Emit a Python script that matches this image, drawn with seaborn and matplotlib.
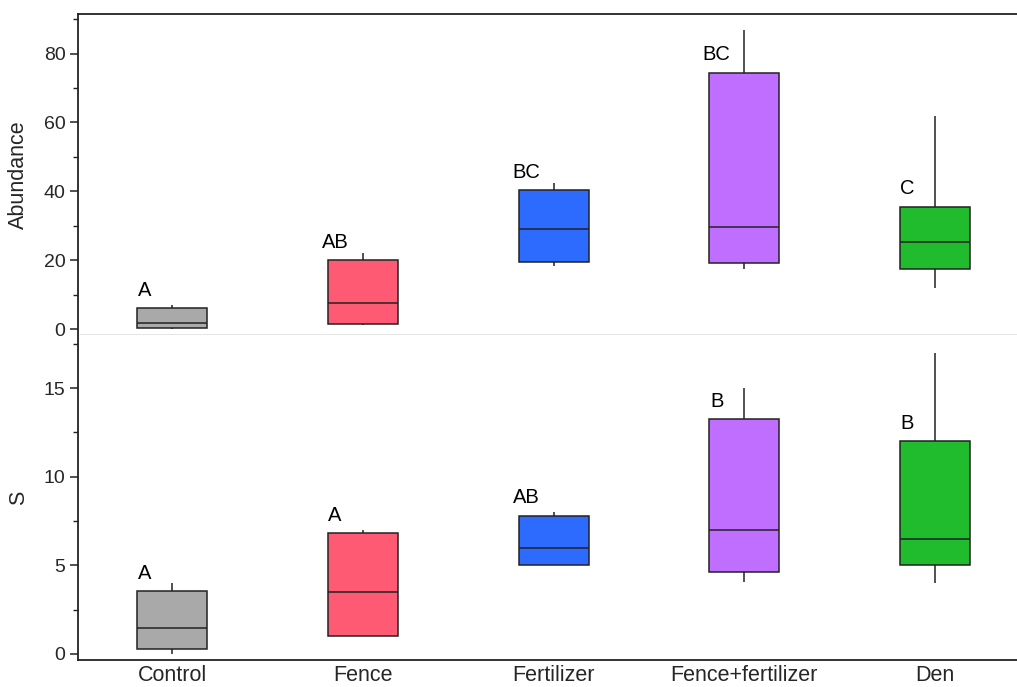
import numpy as np
import pandas as pd
import matplotlib
matplotlib.use("Agg")
import matplotlib.pyplot as plt
import seaborn as sns
from matplotlib.ticker import MultipleLocator

# Treatments
groups = ["Control", "Fence", "Fertilizer", "Fence+fertilizer", "Den"]
colors = ["#A9A9A9", "#FF5A73", "#2D6BFF", "#C06EFF", "#20BC2E"]

# Abundance: min, Q1, median, Q3, max per treatment
abund_min = [0.0, 1.2, 18.3, 17.5, 12.0]
abund_q1 = [0.3, 1.5, 19.5, 19.2, 17.5]
abund_med = [1.8, 7.6, 29.0, 29.6, 25.2]
abund_q3 = [6.0, 20.1, 40.3, 74.5, 35.5]
abund_max = [7.0, 22.0, 42.4, 87.0, 62.0]
abund_letters = ["A", "AB", "BC", "BC", "C"]

# Species richness S: min, Q1, median, Q3, max per treatment
s_min = [0.0, 1.0, 5.0, 4.05, 4.0]
s_q1 = [0.3, 1.0, 5.0, 4.6, 5.0]
s_med = [1.47, 3.5, 6.0, 7.0, 6.5]
s_q3 = [3.55, 6.8, 7.8, 13.25, 12.0]
s_max = [4.0, 7.0, 8.0, 15.0, 17.0]
s_letters = ["A", "A", "AB", "B", "B"]


def five_number_frame(mins, q1s, meds, q3s, maxs):
    # Five points per group reproduce the quartiles exactly
    rows = []
    for g, a, b, c, d, e in zip(groups, mins, q1s, meds, q3s, maxs):
        for v in (a, b, c, d, e):
            rows.append({"group": g, "value": v})
    return pd.DataFrame(rows)


df_abund = five_number_frame(abund_min, abund_q1, abund_med, abund_q3, abund_max)
df_s = five_number_frame(s_min, s_q1, s_med, s_q3, s_max)

sns.set_style("white")
plt.rcParams["font.family"] = ["Liberation Sans", "DejaVu Sans"]

fig = plt.figure(figsize=(10.17, 6.87), dpi=100)
ax_top = fig.add_axes([0.0767, 0.5125, 0.9233, 0.4671])
ax_bot = fig.add_axes([0.0767, 0.0394, 0.9233, 0.4731], sharex=ax_top)

edge = "#222222"
box_kw = dict(
    x="group", y="value", hue="group", order=groups, hue_order=groups,
    palette=colors, saturation=1, legend=False, whis=(0, 100), showfliers=False,
    width=0.367, linewidth=1.1, linecolor=edge,
    medianprops=dict(color=edge, linewidth=1.1),
    whiskerprops=dict(color=edge, linewidth=1.1),
    capprops=dict(visible=False),
    boxprops=dict(edgecolor=edge, linewidth=1.1),
)

sns.boxplot(data=df_abund, ax=ax_top, **box_kw)
sns.boxplot(data=df_s, ax=ax_bot, **box_kw)

for ax, q3s, letters in ((ax_top, abund_q3, abund_letters), (ax_bot, s_q3, s_letters)):
    for i, (q, lab) in enumerate(zip(q3s, letters)):
        ax.annotate(lab, xy=(i - 0.145, q), xytext=(0, 6), textcoords="offset points",
                    ha="center", va="bottom", fontsize=14.5, color="black")

ax_top.set_xlim(-0.493, 4.43)
ax_top.set_ylim(-1.7, 91.5)
ax_bot.set_ylim(-0.34, 18.0)

ax_top.yaxis.set_major_locator(MultipleLocator(20))
ax_top.yaxis.set_minor_locator(MultipleLocator(10))
ax_bot.yaxis.set_major_locator(MultipleLocator(5))
ax_bot.yaxis.set_minor_locator(MultipleLocator(2.5))

ax_top.set_ylabel("Abundance", fontsize=15.5)
ax_bot.set_ylabel("S", fontsize=15.5)
ax_top.set_xlabel("")
ax_bot.set_xlabel("")
ax_top.yaxis.set_label_coords(-0.052, 0.5)
ax_bot.yaxis.set_label_coords(-0.052, 0.5)

for ax in (ax_top, ax_bot):
    ax.tick_params(axis="y", which="major", direction="out", length=6, width=1.1,
                   color=edge, labelsize=14, left=True, pad=3)
    ax.tick_params(axis="y", which="minor", direction="out", length=3.5, width=1.0,
                   color=edge, left=True)
    ax.spines["right"].set_visible(False)
    ax.spines["left"].set_color(edge)
    ax.spines["left"].set_linewidth(1.3)

ax_top.tick_params(axis="x", which="both", bottom=False, labelbottom=False)
ax_top.spines["top"].set_color(edge)
ax_top.spines["top"].set_linewidth(1.3)
ax_top.spines["bottom"].set_color("#e2e2e2")
ax_top.spines["bottom"].set_linewidth(1.2)

ax_bot.spines["top"].set_visible(False)
ax_bot.spines["bottom"].set_color(edge)
ax_bot.spines["bottom"].set_linewidth(1.3)
ax_bot.tick_params(axis="x", which="both", bottom=False, labelsize=15.5, pad=0.5)

fig.savefig("out.png", dpi=100)
